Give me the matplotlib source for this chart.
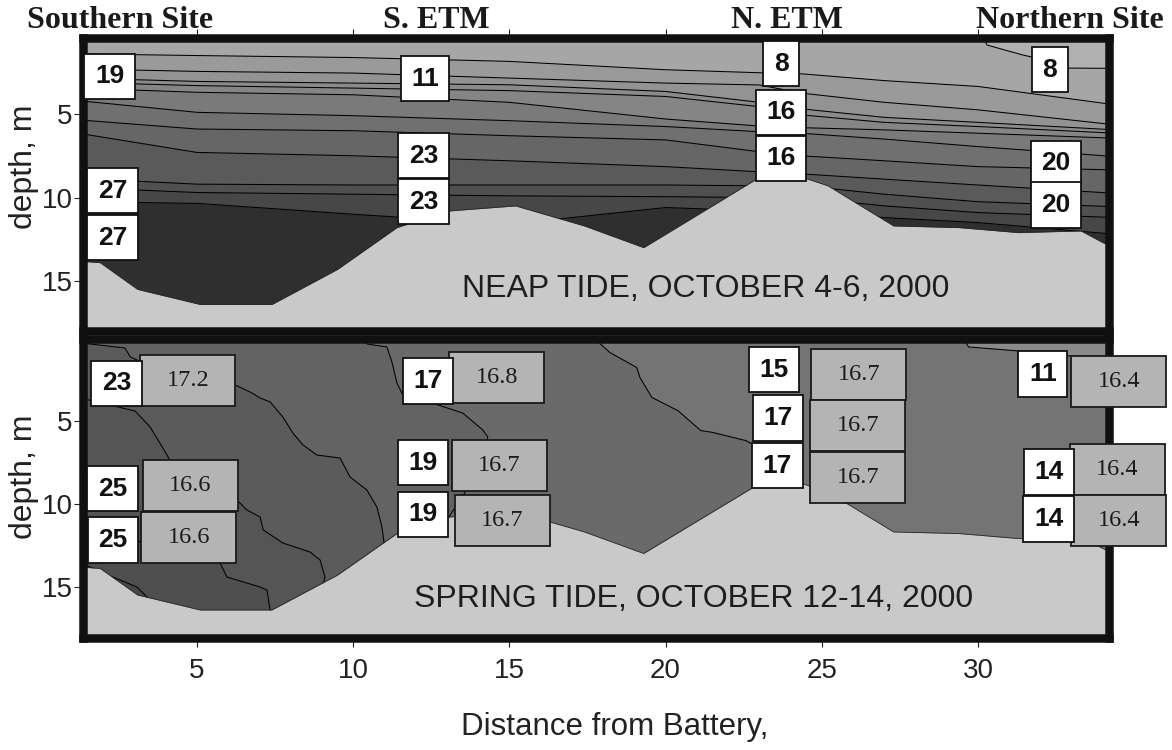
import matplotlib
matplotlib.use("Agg")
import matplotlib.pyplot as plt
import matplotlib.transforms as mtransforms
from matplotlib.patches import Rectangle

plt.rcParams["font.family"] = ["Liberation Sans", "DejaVu Sans"]

# ---------------------------------------------------------------- data
# along-channel distance (km) and bottom depth (m) of the section
bottom_km = [1.2, 1.9, 3.1, 5.1, 7.4, 9.5, 11.4, 13.1, 15.2, 17.4, 19.3,
             23.0, 24.4, 25.2, 27.3, 29.4, 31.3, 33.3, 34.0, 34.4]
bottom_m = [13.8, 13.9, 15.5, 16.4, 16.4, 14.3, 11.8, 10.8, 10.5, 11.7, 13.0,
            8.8, 8.8, 9.3, 11.7, 11.8, 12.1, 12.0, 12.7, 13.0]

# neap tide: depth (m) of each salinity isoline at these distances
neap_km = [1.2, 5, 10, 15, 20, 23, 24.4, 27, 30, 34.4]
neap_iso = [
    [1.40, 1.50, 1.62, 1.85, 2.35, 2.53, 2.60, 3.00, 3.35, 4.45],
    [2.30, 2.45, 2.55, 2.85, 3.15, 3.26, 3.76, 4.30, 4.75, 5.65],
    [2.85, 3.05, 3.15, 3.25, 3.65, 4.30, 4.70, 5.20, 5.50, 5.95],
    [3.10, 3.30, 3.45, 3.60, 3.95, 4.56, 5.06, 5.50, 5.75, 6.15],
    [3.45, 3.70, 3.85, 4.30, 5.30, 5.72, 5.82, 5.95, 6.15, 6.45],
    [4.20, 4.90, 5.10, 5.40, 5.75, 6.06, 6.16, 6.50, 6.95, 7.55],
    [5.35, 5.90, 6.00, 6.30, 6.55, 7.26, 7.51, 7.80, 8.15, 8.35],
    [6.15, 7.30, 7.50, 7.80, 8.15, 8.46, 8.59, 8.90, 9.25, 9.75],
    [8.85, 9.20, 9.25, 9.25, 9.25, 9.30, 9.30, 9.80, 10.25, 10.55],
    [9.40, 9.70, 9.80, 9.90, 9.95, 10.00, 10.00, 10.50, 10.90, 11.20],
    [10.25, 10.35, 11.00, 11.60, 10.60, 10.80, 10.80, 11.20, 11.50, 12.20],
]
# freshest isoline, surfacing near the northern site
neap_top_km = [30.1, 30.29, 31.44, 31.73, 32.88, 34.4]
neap_top_m = [0.0, 0.87, 1.47, 1.59, 2.25, 2.27]
neap_shades = ["#b0b0b0", "#a6a6a6", "#9a9a9a", "#939393", "#8b8b8b", "#858585",
               "#7a7a7a", "#707070", "#666666", "#5a5a5a", "#505050", "#474747",
               "#2f2f2f"]

# spring tide isolines (km, m), freshest first
spring_w_km = [29.5, 29.6, 29.7, 31.3, 32.6, 34.4]
spring_w_m = [0.0, 0.26, 0.56, 0.80, 1.04, 1.34]
spring_v_km = [17.8, 17.87, 18.22, 19.08, 19.18, 19.56, 20.40, 21.13, 21.49,
               22.57, 22.86, 23.0, 23.2, 23.2]
spring_v_m = [0.0, 0.3, 0.9, 1.8, 2.4, 3.6, 4.4, 5.6, 5.7, 6.2, 6.5, 8.0, 9.5, 19.0]
spring_p_km = [10.4, 10.44, 11.08, 11.24, 11.40, 11.59, 12.14, 12.71, 13.51,
               14.15, 14.31, 14.06, 13.42, 13.10, 13.0, 13.0]
spring_p_m = [0.0, 0.38, 0.56, 1.46, 2.73, 3.45, 3.75, 4.05, 4.54, 5.56, 5.98,
              7.97, 9.78, 10.7, 11.0, 19.0]
spring_q_km = [1.2, 2.69, 2.79, 2.86, 3.81, 5.10, 6.22, 6.70, 7.02, 7.34, 7.75,
               8.07, 8.39, 8.84, 9.58, 9.90, 10.44, 10.76, 10.92, 11.0, 11.0]
spring_q_m = [0.3, 0.62, 0.92, 1.16, 1.95, 2.43, 2.85, 3.27, 3.63, 3.87, 4.78,
              5.74, 6.46, 7.07, 7.25, 8.39, 9.18, 10.2, 11.4, 12.5, 19.0]
spring_r_km = [1.2, 3.02, 3.50, 3.81, 4.13, 5.10, 6.28, 6.60, 7.02, 7.12, 7.75,
               8.62, 8.94, 9.10, 9.03, 9.0]
spring_r_m = [3.6, 4.42, 5.38, 6.34, 7.36, 8.57, 9.78, 10.38, 10.8, 11.58,
              12.37, 12.91, 13.39, 14.42, 14.9, 19.0]
spring_s_km = [1.2, 3.5, 5.74, 5.96, 6.60, 7.02, 7.24, 7.34, 7.34]
spring_s_m = [11.0, 12.5, 13.57, 14.42, 14.78, 15.02, 15.2, 16.4, 19.0]
spring_u_km = [1.2, 2.31, 3.08, 3.43, 3.43]
spring_u_m = [13.5, 14.42, 15.02, 15.68, 19.0]
spring_shades = ["#8a8a8a", "#747474", "#6a6a6a", "#636363", "#5b5b5b",
                 "#555555", "#4f4f4f", "#474747"]

# station salinities (psu) written on the sections
neap_sal = [19, 27, 27, 11, 23, 23, 8, 16, 16, 8, 20, 20]
neap_sal_km = [2.2, 2.3, 2.3, 12.3, 12.25, 12.25, 23.7, 23.7, 23.7, 32.3, 32.5, 32.5]
neap_sal_m = [2.75, 9.6, 12.4, 2.9, 7.5, 10.25, 2.0, 4.9, 7.65, 2.35, 7.95, 10.45]

spring_sal = [23, 25, 25, 17, 19, 19, 15, 17, 17, 11, 14, 14]
spring_sal_km = [2.42, 2.29, 2.31, 12.39, 12.23, 12.23, 23.48, 23.61, 23.58,
                 32.08, 32.27, 32.26]
spring_sal_m = [2.76, 9.11, 12.19, 2.61, 7.52, 10.65, 1.92, 4.84, 7.70,
                2.19, 8.09, 10.92]

# station temperatures (deg C)
spring_temp = [17.2, 16.6, 16.6, 16.8, 16.7, 16.7, 16.7, 16.7, 16.7, 16.4, 16.4, 16.4]
spring_temp_km = [4.71, 4.79, 4.74, 14.60, 14.68, 14.78, 26.19, 26.16, 26.16,
                  34.51, 34.46, 34.51]
spring_temp_m = [2.58, 8.93, 12.06, 2.37, 7.67, 11.04, 2.19, 5.32, 8.45,
                 2.61, 7.94, 11.04]

station_names = ["Southern Site", "S. ETM", "N. ETM", "Northern Site"]
station_name_km = [2.55, 12.67, 23.89, 32.93]
x_ticks = [5, 10, 15, 20, 25, 30]
y_ticks = [5, 10, 15]

# ---------------------------------------------------------------- figure
W, H, DPI = 1172, 750, 100
fig = plt.figure(figsize=(W / DPI, H / DPI), dpi=DPI, facecolor="white")

left, right = 82.5 / W, 1108.5 / W
ax_top = fig.add_axes([left, 1 - 331 / H, right - left, (331 - 38) / H])
ax_bot = fig.add_axes([left, 1 - 638 / H, right - left, (638 - 339) / H])

XLIM = (1.335, 34.18)
FRAME_PT = 8.5 * 72 / DPI
DEEP = 19.0
BATH_COLOR = "#c9c9c9"


def setup(ax, ylim):
    ax.set_xlim(*XLIM)
    ax.set_ylim(*ylim)
    for sp in ax.spines.values():
        sp.set_linewidth(FRAME_PT)
        sp.set_color("#101010")
    ax.set_xticks(x_ticks)
    ax.set_yticks(y_ticks)
    ax.tick_params(axis="y", direction="out", length=6.5, width=0.8,
                   pad=0.5, labelsize=20, colors="#222222")
    ax.tick_params(axis="x", direction="out", length=6.5, width=0.8,
                   pad=8, labelsize=20, colors="#222222")


def draw_bathymetry(ax):
    ax.fill_between(bottom_km, bottom_m, DEEP, color=BATH_COLOR, lw=0, zorder=2)
    ax.plot(bottom_km, bottom_m, color="#2a2a2a", lw=0.6, zorder=2.1)


def fill_left_of(ax, xs, ys, color, close_pts):
    px = list(xs) + [p[0] for p in close_pts]
    py = list(ys) + [p[1] for p in close_pts]
    ax.fill(px, py, color=color, lw=0, zorder=1)
    ax.plot(xs, ys, color="black", lw=0.75, zorder=1.5)


def salinity_boxes(ax, vals, xs, ds):
    for v, x, d in zip(vals, xs, ds):
        ax.text(x, d, str(v), ha="center", va="center", fontsize=19,
                fontweight="bold", color="#111111", zorder=5, clip_on=False,
                bbox=dict(boxstyle="square,pad=0.4", fc="white", ec="#111111", lw=1.3))


# ---------------------------------------------------------------- neap
ax = ax_top
setup(ax, (17.99, 0.45))
ax.set_facecolor(neap_shades[0])
x0, x1 = 1.0, 34.6
fill_left_of(ax, neap_top_km, neap_top_m, neap_shades[1],
             [(x1, DEEP), (x0, DEEP), (x0, -1), (neap_top_km[0], -1)])
for i, iso in enumerate(neap_iso):
    ax.fill_between(neap_km, iso, DEEP, color=neap_shades[i + 2], lw=0, zorder=1)
    ax.plot(neap_km, iso, color="black", lw=0.75, zorder=1.5)
draw_bathymetry(ax)
salinity_boxes(ax, neap_sal, neap_sal_km, neap_sal_m)
ax.text(21.3, 15.95, "NEAP TIDE, OCTOBER 4-6, 2000", ha="center", va="baseline",
        fontsize=23, color="#1e1e1e", zorder=3)
ax.tick_params(axis="x", top=True, bottom=False, labeltop=False, labelbottom=False)
ax.set_ylabel("depth, m", fontsize=23, color="#222222")
ax.yaxis.set_label_coords(-0.042, 0.56)
name_tr = mtransforms.blended_transform_factory(ax.transData, ax.transAxes)
for name, xk in zip(station_names, station_name_km):
    ax.text(xk, 1.034, name, transform=name_tr, ha="center", va="baseline",
            fontsize=23, fontweight="bold", family="Liberation Serif",
            color="#1a1a1a", clip_on=False)

# ---------------------------------------------------------------- spring
ax = ax_bot
setup(ax, (18.09, 0.08))
ax.set_facecolor(spring_shades[0])
fill_left_of(ax, spring_w_km, spring_w_m, spring_shades[1],
             [(x1, DEEP), (x0, DEEP), (x0, -1), (spring_w_km[0], -1)])
for xs, ys, c in [(spring_v_km, spring_v_m, spring_shades[2]),
                  (spring_p_km, spring_p_m, spring_shades[3])]:
    fill_left_of(ax, [xs[0]] + xs, [-1] + ys, c, [(x0, DEEP), (x0, -1)])
fill_left_of(ax, spring_q_km, spring_q_m, spring_shades[4],
             [(x0, DEEP), (x0, spring_q_m[0])])
for xs, ys, c in [(spring_r_km, spring_r_m, spring_shades[5]),
                  (spring_s_km, spring_s_m, spring_shades[6]),
                  (spring_u_km, spring_u_m, spring_shades[7])]:
    fill_left_of(ax, [x0] + xs, [ys[0]] + ys, c, [(x0, DEEP)])
draw_bathymetry(ax)
salinity_boxes(ax, spring_sal, spring_sal_km, spring_sal_m)

BOX_W, BOX_H = 0.95, 0.51  # inches
for v, x, d in zip(spring_temp, spring_temp_km, spring_temp_m):
    tr = fig.dpi_scale_trans + mtransforms.ScaledTranslation(x, d, ax.transData)
    ax.add_patch(Rectangle((-BOX_W / 2, -BOX_H / 2), BOX_W, BOX_H, transform=tr,
                           fc="#b4b4b4", ec="#1a1a1a", lw=1.3, zorder=4,
                           clip_on=False))
    ax.text(x, d, f"{v:.1f}", ha="center", va="center", fontsize=17.5,
            family="Liberation Serif", color="#1a1a1a", zorder=5, clip_on=False)

ax.text(20.9, 16.2, "SPRING TIDE, OCTOBER 12-14, 2000", ha="center",
        va="baseline", fontsize=23, color="#1e1e1e", zorder=3)
ax.set_ylabel("depth, m", fontsize=23, color="#222222")
ax.yaxis.set_label_coords(-0.042, 0.54)

fig.text(615 / W, 1 - 727 / H, "Distance from Battery,", ha="center",
         va="center", fontsize=22.5, color="#222222")

fig.savefig("out.png", dpi=DPI)
